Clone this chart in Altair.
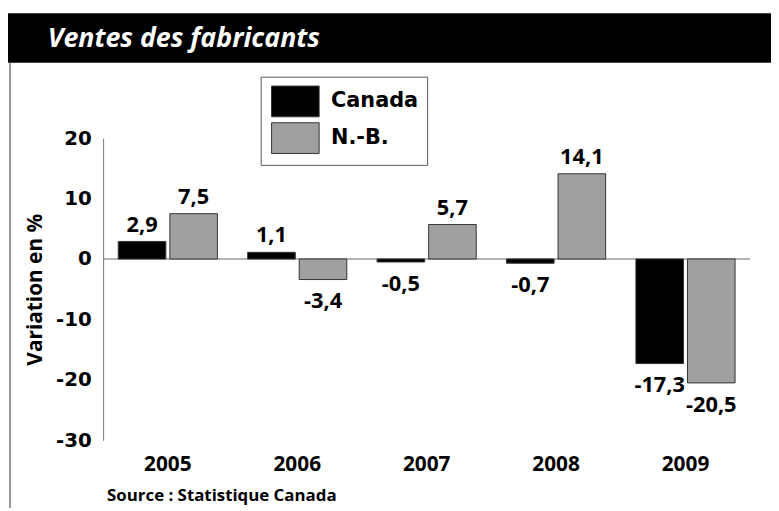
import altair as alt
import pandas as pd

years = ["2005", "2006", "2007", "2008", "2009"]
canada = [2.9, 1.1, -0.5, -0.7, -17.3]
nb = [7.5, -3.4, 5.7, 14.1, -20.5]
series = ["Canada", "N.-B."]
colors = ["#000000", "#a0a0a0"]
y_ticks = [20, 10, 0, -10, -20, -30]
title_text = "Ventes des fabricants"
source_text = "Source : Statistique Canada"
y_title = "Variation en %"

rows = []
for i, yr in enumerate(years):
    for s, vals in zip(series, [canada, nb]):
        v = vals[i]
        rows.append({"year": yr, "series": s, "value": v,
                     "label": f"{v:.1f}".replace(".", ",")})
df = pd.DataFrame(rows)

W, H = 653, 305
HUM = "Open Sans, sans-serif"
WIDE = "DejaVu Sans, sans-serif"

x_enc = alt.X("year:N", sort=years,
              scale=alt.Scale(paddingInner=0.234, paddingOuter=0.117),
              axis=alt.Axis(title=None, domain=False, ticks=False, labelAngle=0,
                            labelFont=HUM, labelFontWeight="bold", labelFontSize=21,
                            labelColor="black", labelPadding=13))
xoff = alt.XOffset("series:N", scale=alt.Scale(domain=series, paddingInner=0.077,
                                                paddingOuter=0))
y_enc = alt.Y("value:Q",
              scale=alt.Scale(domain=[-30, 20], nice=False, zero=False),
              axis=alt.Axis(title=y_title, values=y_ticks, grid=False, ticks=False,
                            labelExpr="'' + datum.value",
                            domainColor="#777", domainWidth=1,
                            labelFont=WIDE, labelFontWeight="bold", labelFontSize=20,
                            labelColor="black", labelPadding=12,
                            titleFont=HUM, titleFontWeight="bold", titleFontSize=21,
                            titleColor="black", titlePadding=10))

one = pd.DataFrame({"a": [0]})

bar_band = alt.Chart(one).mark_rect(color="black").encode(
    x=alt.value(-96), x2=alt.value(700), y=alt.value(-126), y2=alt.value(-76))
left_line = alt.Chart(one).mark_rule(color="#777", strokeWidth=1.5).encode(
    x=alt.value(-94), y=alt.value(-76), y2=alt.value(400))
title = alt.Chart(one).mark_text(
    text=title_text, font=HUM, fontStyle="italic", fontWeight="bold", fontSize=27,
    color="white", align="left", baseline="alphabetic").encode(
    x=alt.value(-56), y=alt.value(-92))
source = alt.Chart(one).mark_text(
    text=source_text, font=HUM, fontWeight="bold", fontSize=17,
    color="black", align="left", baseline="alphabetic").encode(
    x=alt.value(4), y=alt.value(366))

zero_rule = alt.Chart(one).mark_rule(color="#666", strokeWidth=1).encode(y=alt.datum(0))

bars = alt.Chart(df).mark_bar(stroke="#333", strokeWidth=1, opacity=1).encode(
    x=x_enc, xOffset=xoff, y=y_enc, y2=alt.datum(0),
    color=alt.Color("series:N", scale=alt.Scale(domain=series, range=colors),
                    legend=alt.Legend(
                        title=None, orient="none", legendX=159, legendY=-62,
                        symbolType="M-1.548,-1H1.548V1H-1.548Z", symbolSize=961,
                        symbolOffset=10, labelOffset=20, rowPadding=1,
                        symbolStrokeColor="#333", symbolStrokeWidth=1,
                        symbolOpacity=1,
                        labelFont=WIDE, labelFontWeight="bold", labelFontSize=21,
                        labelColor="black", padding=9,
                        strokeColor="#555", fillColor="white")))

txt_pos = alt.Chart(df).transform_filter("datum.value >= 0").mark_text(
    font=HUM, fontWeight="bold", fontSize=22, color="black",
    baseline="alphabetic", dy=-10).encode(
    x=x_enc, xOffset=xoff, y=y_enc, text="label:N")
txt_neg = alt.Chart(df).transform_filter("datum.value < 0").mark_text(
    font=HUM, fontWeight="bold", fontSize=22, color="black",
    baseline="alphabetic", dy=29).encode(
    x=x_enc, xOffset=xoff, y=y_enc, text="label:N")

chart = alt.layer(bar_band, left_line, title, source, zero_rule, bars, txt_pos, txt_neg).properties(
    width=W, height=H,
    autosize=alt.AutoSizeParams(type="none"),
    padding={"left": 96, "top": 129, "right": 21, "bottom": 66},
    background="white",
).configure_view(stroke=None)

chart.save("out.html", embed_options={"renderer": "svg", "actions": False})
